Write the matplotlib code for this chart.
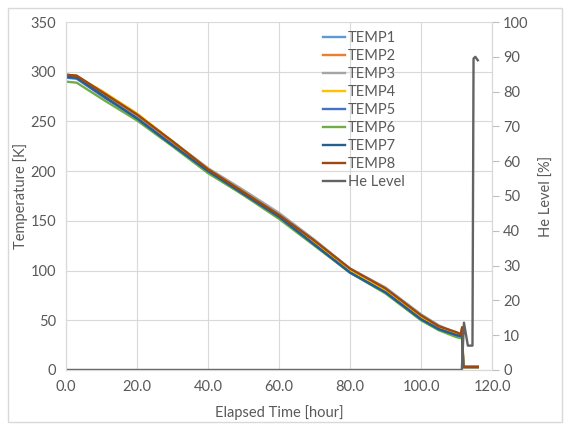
import numpy as np
import matplotlib.pyplot as plt
from matplotlib.ticker import MultipleLocator, FormatStrFormatter

plt.rcParams['font.family'] = ['Lato', 'DejaVu Sans']

# elapsed time [hour] for the temperature sensors
hours = [0, 3, 10, 20, 30, 40, 50, 60, 70, 80, 90, 100, 105, 110, 111.2, 111.6, 111.9, 116]

temp1 = [295, 294, 277, 254, 227, 200, 177, 154, 127, 99, 79, 52, 42, 35, 34, 38, 3, 3]
temp2 = [297, 296, 280, 256, 229, 200, 176, 153, 129, 101, 81, 54, 44, 37, 36, 43, 3, 3]
temp3 = [296, 295, 279, 256, 230, 203, 181, 158, 131, 102, 83, 56, 45, 37, 36, 39, 3, 3]
temp4 = [296, 295, 281, 258, 230, 202, 179, 155, 128, 100, 80, 53, 43, 36, 35, 40, 3, 3]
temp5 = [294, 293, 276, 253, 226, 199, 177, 154, 126, 98, 78, 51, 41, 35, 34, 37, 3, 3]
temp6 = [290, 289, 273, 251, 225, 198, 176, 152, 125, 98, 77, 50, 40, 33, 32, 35, 3, 3]
temp7 = [295, 294, 277, 253, 226, 200, 177, 154, 126, 98, 78, 51, 41, 35, 34, 37, 3, 3]
temp8 = [297, 296, 280, 257, 230, 202, 179, 156, 130, 102, 82, 55, 44, 38, 36, 43, 3, 3]

# helium level [%]
he_hours = [0, 111.5, 112.1, 113.2, 114.5, 114.8, 115.3, 116.0]
he_level = [0, 0, 13.6, 7, 7, 89.5, 90, 89]

names = ['TEMP1', 'TEMP2', 'TEMP3', 'TEMP4', 'TEMP5', 'TEMP6', 'TEMP7', 'TEMP8']
temps = [temp1, temp2, temp3, temp4, temp5, temp6, temp7, temp8]
colors = ['#5B9BD5', '#ED7D31', '#A5A5A5', '#FFC000', '#4472C4', '#70AD47', '#255E91', '#9E480E']

fig = plt.figure(figsize=(5.65, 4.24), dpi=100)
# outer chart border like Excel
fig.patches.append(plt.Rectangle((0.014, 0.005), 0.98, 0.976, transform=fig.transFigure,
                                 fill=False, edgecolor='#D9D9D9', linewidth=1))
ax = fig.add_axes([0.1168, 0.1274, 0.754, 0.8207])
ax2 = ax.twinx()

handles = []
for name, vals, c in zip(names, temps, colors):
    h, = ax.plot(hours, vals, color=c, linewidth=1.7, label=name)
    handles.append(h)
hh, = ax2.plot(he_hours, he_level, color='#636363', linewidth=1.7, label='He Level')
handles.append(hh)

ax.set_xlim(0, 120)
ax.set_ylim(0, 350)
ax2.set_ylim(0, 100)
ax.xaxis.set_major_locator(MultipleLocator(20))
ax.xaxis.set_major_formatter(FormatStrFormatter('%.1f'))
ax.yaxis.set_major_locator(MultipleLocator(50))
ax2.yaxis.set_major_locator(MultipleLocator(10))

ax.grid(True, color='#D9D9D9', linewidth=0.8)
ax.set_axisbelow(True)

txt = '#595959'
for a in (ax, ax2):
    for s in a.spines.values():
        s.set_color('#D9D9D9')
    a.spines['top'].set_visible(False)
ax.tick_params(axis='both', length=0, colors=txt, labelsize=10.5, pad=7)
ax2.tick_params(axis='y', length=5, color='#BFBFBF', labelcolor=txt, labelsize=10.5, pad=3)

ax.set_xlabel('Elapsed Time [hour]', color=txt, fontsize=10.5, labelpad=8)
ax.set_ylabel('Temperature [K]', color=txt, fontsize=10.5, labelpad=2)
ax2.set_ylabel('He Level [%]', color=txt, fontsize=10.5, labelpad=8)

leg = ax2.legend(handles=handles, loc='upper left', bbox_to_anchor=(0.583, 1.0),
                 frameon=False, fontsize=10.5, handlelength=1.5, handletextpad=0.2,
                 labelspacing=0.28, borderaxespad=0.2)
for t in leg.get_texts():
    t.set_color(txt)

fig.savefig('out.png', dpi=100)
